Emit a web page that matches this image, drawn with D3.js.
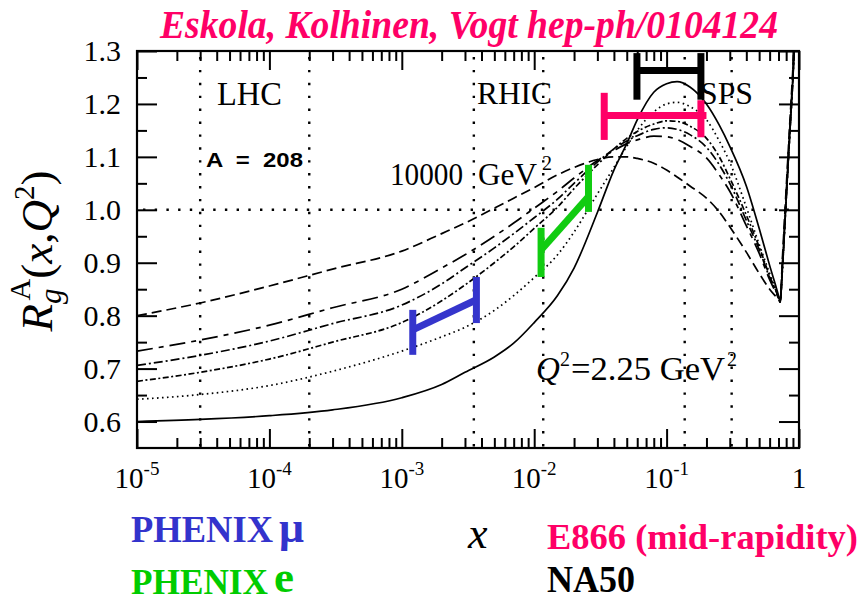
<!DOCTYPE html>
<html><head><meta charset="utf-8">
<script src="https://cdn.jsdelivr.net/npm/d3@7"></script>
<style>body{margin:0;background:#fff}svg{display:block}text{font-family:"Liberation Serif","DejaVu Serif",serif}</style>
</head><body>
<script>
// ---------- data ----------
const xs = [1e-5,3e-5,1e-4,3e-4,1e-3,2e-3,3e-3,5e-3,7e-3,0.01,0.015,0.02,0.03,0.04,0.05,0.06,0.08,0.1,0.12,0.15,0.2,0.25,0.3,0.4,0.5,0.6,0.7,0.72,0.75,0.8,0.85,0.9,0.93];
const rSolid   = [0.600,0.604,0.611,0.622,0.645,0.670,0.693,0.722,0.748,0.787,0.838,0.890,0.995,1.075,1.125,1.170,1.222,1.238,1.242,1.232,1.200,1.160,1.120,1.045,0.965,0.895,0.838,0.826,0.89,1.02,1.14,1.25,1.33];
const rDotted  = [0.642,0.651,0.668,0.695,0.733,0.760,0.778,0.810,0.838,0.872,0.915,0.958,1.030,1.080,1.120,1.150,1.185,1.200,1.203,1.195,1.170,1.130,1.090,1.005,0.935,0.880,0.835,0.826,0.89,1.02,1.14,1.25,1.33];
const rDashDot2= [0.676,0.693,0.718,0.750,0.787,0.828,0.858,0.900,0.930,0.965,1.005,1.040,1.085,1.115,1.135,1.148,1.162,1.168,1.167,1.158,1.135,1.100,1.060,0.990,0.930,0.875,0.835,0.826,0.89,1.02,1.14,1.25,1.33];
const rDashDot = [0.706,0.725,0.752,0.785,0.820,0.860,0.890,0.928,0.955,0.985,1.020,1.050,1.090,1.115,1.130,1.140,1.152,1.155,1.152,1.142,1.118,1.085,1.050,0.980,0.925,0.872,0.835,0.826,0.89,1.02,1.14,1.25,1.33];
const rLongShort=[0.733,0.754,0.782,0.815,0.850,0.890,0.915,0.950,0.975,1.003,1.035,1.060,1.093,1.112,1.125,1.132,1.139,1.138,1.133,1.120,1.098,1.066,1.035,0.970,0.918,0.868,0.833,0.826,0.90,1.03,1.15,1.26,1.34];
const rDashed  = [0.800,0.824,0.856,0.888,0.922,0.955,0.975,1.003,1.022,1.042,1.066,1.080,1.095,1.100,1.100,1.097,1.088,1.075,1.062,1.045,1.022,0.996,0.968,0.920,0.880,0.850,0.830,0.826,0.91,1.04,1.16,1.27,1.35];

// experiment ranges: [x1, x2, y1, y2, capLeftLow, capLeftHigh, capRightLow, capRightHigh, xLineEnd]
const phenixMu = [1.21e-3, 3.66e-3, 0.773, 0.830, 0.726, 0.811, 0.786, 0.873, 3.66e-3];
const phenixE  = [0.01127, 0.0257, 0.924, 1.025, 0.873, 0.966, 0.996, 1.085, 0.0257];
const e866     = [0.0338, 0.1816, 1.178, 1.178, 1.132, 1.221, 1.137, 1.207, 0.200];
const na50     = [0.0597, 0.1816, 1.263, 1.263, 1.208, 1.296, 1.208, 1.296, 0.1816];

const regionLines = [3e-5, 2e-4, 3.5e-3, 0.0117, 0.137, 0.31];
const xMajorTicks = [1e-5,1e-4,1e-3,1e-2,1e-1,1];
const xTickExps = ["-5","-4","-3","-2","-1",null];
const yMajorTicks = [0.6,0.7,0.8,0.9,1.0,1.1,1.2,1.3];
const yTickLabels = ["0.6","0.7","0.8","0.9","1.0","1.1","1.2","1.3"];
const yMinorTicks = [0.65,0.75,0.85,0.95,1.05,1.15,1.25];

// ---------- drawing ----------
const W=862,H=603, L=137,R=799,T=51,B=448;
const svg=d3.select("body").append("svg").attr("width",W).attr("height",H);
const x=d3.scaleLog().domain([1e-5,1]).range([L,R]);
const y=d3.scaleLinear().domain([0.55,1.3]).range([B,T]);

svg.append("defs").append("clipPath").attr("id","plot").append("rect")
  .attr("x",L).attr("y",T).attr("width",R-L).attr("height",B-T);

// region dotted lines
const grid=svg.append("g").attr("stroke","#000").attr("stroke-width",2.4).attr("stroke-dasharray","2.4,10.5");
grid.selectAll("line.v").data(regionLines).join("line").attr("class","v")
  .attr("x1",d=>x(d)).attr("x2",d=>x(d)).attr("y1",T+6).attr("y2",B);
grid.append("line").attr("x1",L+6).attr("x2",R).attr("y1",y(1)).attr("y2",y(1)).attr("stroke-dasharray","2.4,9.3");

// curves
const series=[
  {v:rDashed,  dash:"10,5"},
  {v:rLongShort,dash:"16,6,5,6"},
  {v:rDashDot, dash:"9,3,2,3"},
  {v:rDashDot2,dash:"6,2.5,2,2.5"},
  {v:rDotted,  dash:"1.6,3.4"},
  {v:rSolid,   dash:null}
];
const line=d3.line().x(d=>x(d[0])).y(d=>y(d[1])).curve(d3.curveMonotoneX);
svg.append("g").attr("clip-path","url(#plot)").selectAll("path").data(series).join("path")
  .attr("d",s=>line(xs.map((xv,i)=>[xv,s.v[i]])))
  .attr("fill","none").attr("stroke","#000").attr("stroke-width",1.7)
  .attr("stroke-dasharray",s=>s.dash);

// axes (inward ticks)
function clean(g){g.select(".domain").remove();g.selectAll("line").attr("stroke","#000").attr("stroke-width",2);g.selectAll("text").remove();}
const xMinor=[];for(let e=-5;e<0;e++)for(let m=2;m<10;m++)xMinor.push(m*Math.pow(10,e));
svg.append("g").attr("transform",`translate(0,${B})`).call(d3.axisBottom(x).tickValues(xMajorTicks).tickSizeInner(-19).tickSizeOuter(0)).call(clean);
svg.append("g").attr("transform",`translate(0,${B})`).call(d3.axisBottom(x).tickValues(xMinor).tickSizeInner(-10).tickSizeOuter(0)).call(clean);
svg.append("g").attr("transform",`translate(0,${T})`).call(d3.axisTop(x).tickValues(xMajorTicks).tickSizeInner(-19).tickSizeOuter(0)).call(clean);
svg.append("g").attr("transform",`translate(0,${T})`).call(d3.axisTop(x).tickValues(xMinor).tickSizeInner(-10).tickSizeOuter(0)).call(clean);
svg.append("g").attr("transform",`translate(${L},0)`).call(d3.axisLeft(y).tickValues(yMajorTicks).tickSizeInner(-20).tickSizeOuter(0)).call(clean);
svg.append("g").attr("transform",`translate(${L},0)`).call(d3.axisLeft(y).tickValues(yMinorTicks).tickSizeInner(-10).tickSizeOuter(0)).call(clean);
svg.append("g").attr("transform",`translate(${R},0)`).call(d3.axisRight(y).tickValues(yMajorTicks).tickSizeInner(-20).tickSizeOuter(0)).call(clean);
svg.append("g").attr("transform",`translate(${R},0)`).call(d3.axisRight(y).tickValues(yMinorTicks).tickSizeInner(-10).tickSizeOuter(0)).call(clean);
svg.append("rect").attr("x",L).attr("y",T).attr("width",R-L).attr("height",B-T).attr("fill","none").attr("stroke","#000").attr("stroke-width",2.2);

// tick labels
svg.append("g").selectAll("text").data(yMajorTicks).join("text")
  .attr("x",121).attr("y",d=>y(d)+10).attr("text-anchor","end").attr("font-size",30)
  .text((d,i)=>yTickLabels[i]);
const xl=svg.append("g").selectAll("text").data(xMajorTicks).join("text")
  .attr("x",d=>x(d)).attr("y",488).attr("text-anchor","middle").attr("font-size",29);
xl.each(function(d,i){
  const t=d3.select(this);
  if(xTickExps[i]===null){t.text("1");return;}
  t.append("tspan").text("10");
  t.append("tspan").attr("font-size",19).attr("dy",-13).text(xTickExps[i]);
});

// annotations
function txt(s,xp,yp,fs,opt={}){const t=svg.append("text").attr("x",xp).attr("y",yp).attr("font-size",fs).text(s);
  if(opt.w)t.attr("textLength",opt.w).attr("lengthAdjust","spacingAndGlyphs");
  if(opt.fw)t.attr("font-weight",opt.fw); if(opt.fs)t.attr("font-style",opt.fs);
  if(opt.fill)t.attr("fill",opt.fill); if(opt.ff)t.style("font-family",opt.ff); return t;}
txt("LHC",217,105,33,{w:65});
txt("RHIC",477,104,32,{w:75});
txt("SPS",700,104,32,{w:53});
txt("A  =  208",206,167,21,{w:97,fw:"bold",ff:"'Liberation Sans',Arial,sans-serif"}).attr("xml:space","preserve");
txt("10000",390,185,31,{w:73});
txt("GeV",478,185,31,{w:59});
txt("2",542,170,20);
txt("Q",536,380,33,{fs:"italic"});
txt("2",560,366,20);
txt("=2.25 GeV",571,380,33,{w:154});
txt("2",727,366,20);

// title
txt("Eskola, Kolhinen, Vogt hep-ph/0104124",160,38,41,{w:618,fw:"bold",fs:"italic",fill:"#ff0066"});

// y-axis title
const yt=svg.append("text").attr("transform","translate(52,251) rotate(-90)").attr("text-anchor","middle").attr("font-size",45);
yt.append("tspan").attr("font-style","italic").text("R");
yt.append("tspan").attr("font-style","italic").attr("font-size",31).attr("dy",9).text("g");
yt.append("tspan").attr("font-size",30).attr("dx",-12).attr("dy",-31).text("A");
yt.append("tspan").attr("dy",22).text("(");
yt.append("tspan").attr("font-style","italic").text("x");
yt.append("tspan").text(",");
yt.append("tspan").attr("font-style","italic").text("Q");
yt.append("tspan").attr("font-size",29).attr("dy",-18).text("2");
yt.append("tspan").attr("dy",18).text(")");

// x-axis title & legend texts
txt("x",468,548,44,{fs:"italic"});
txt("PHENIX",131,594,36,{w:137,fw:"bold",fill:"#00cc00"});
txt("e",274,592,45,{fw:"bold",fill:"#00cc00"});
txt("PHENIX",131,542,37,{w:142,fw:"bold",fill:"#3333cc"});
txt("μ",279,542,44,{fw:"bold",fill:"#3333cc"});
txt("E866 (mid-rapidity)",547,549,36,{w:311,fw:"bold",fill:"#ff0066"});
txt("NA50",547,592,37,{w:88,fw:"bold"});

// experiment bars
const bars=[{d:phenixMu,c:"#3535cc"},{d:phenixE,c:"#11cc11"},{d:e866,c:"#ff0066"},{d:na50,c:"#000"}];
const bg=svg.append("g").attr("stroke-width",7).attr("fill","none");
bars.forEach(b=>{
  const d=b.d, g=bg.append("g").attr("stroke",b.c);
  g.append("line").attr("x1",x(d[0])).attr("x2",x(d[8])).attr("y1",y(d[2])).attr("y2",y(d[3]));
  g.append("line").attr("x1",x(d[0])).attr("x2",x(d[0])).attr("y1",y(d[4])).attr("y2",y(d[5]));
  g.append("line").attr("x1",x(d[1])).attr("x2",x(d[1])).attr("y1",y(d[6])).attr("y2",y(d[7]));
});
</script>
</body></html>
